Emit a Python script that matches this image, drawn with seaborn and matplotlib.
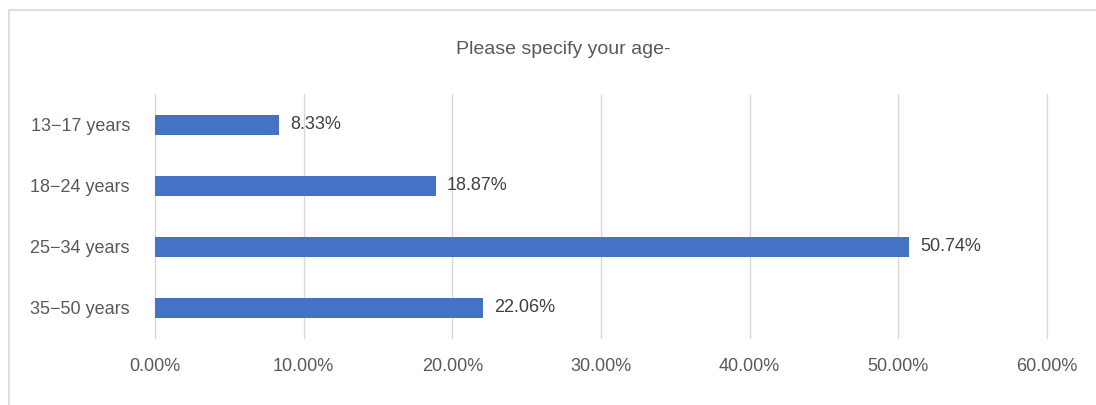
import matplotlib
matplotlib.use("Agg")
import matplotlib.pyplot as plt
import seaborn as sns
import pandas as pd
from matplotlib.patches import Rectangle
from matplotlib import font_manager

# Survey responses: share of respondents per age group (%)
age_groups = ["13\u221217 years", "18\u221224 years", "25\u221234 years", "35\u221250 years"]
shares = [8.33, 18.87, 50.74, 22.06]
x_ticks = [0, 10, 20, 30, 40, 50, 60]
x_tick_labels = ["0.00%", "10.00%", "20.00%", "30.00%", "40.00%", "50.00%", "60.00%"]
title = "Please specify your age-"

df = pd.DataFrame({"age": age_groups, "share": shares})

sns.set_theme(style="white")
installed = {f.name for f in font_manager.fontManager.ttflist}
family = "Liberation Sans Narrow" if "Liberation Sans Narrow" in installed else "Liberation Sans"
plt.rcParams["font.family"] = [family, "DejaVu Sans"]

fig = plt.figure(figsize=(10.96, 4.05), dpi=100)
ax = fig.add_axes([0.1414, 0.165, 0.8139, 0.602])

sns.barplot(data=df, x="share", y="age", orient="h", color="#4472C4",
            width=0.33, saturation=1, linewidth=0, ax=ax)

ax.set_xlim(0, 60)
ax.set_ylim(3.5, -0.5)
ax.set_xticks(x_ticks)
ax.set_xticklabels(x_tick_labels)
ax.set_xlabel("")
ax.set_ylabel("")
ax.grid(axis="x", color="#D9D9D9", linewidth=1)
for gl in ax.get_xgridlines():
    gl.set_clip_on(False)
ax.set_axisbelow(True)
for side in ["top", "right", "bottom", "left"]:
    ax.spines[side].set_visible(False)
ax.tick_params(axis="both", length=0, labelsize=13, labelcolor="#595959")
ax.tick_params(axis="x", pad=14)
ax.tick_params(axis="y", pad=18)

for i, v in enumerate(shares):
    ax.text(v + 0.75, i, f"{v:.2f}%", va="center", ha="left",
            fontsize=13, color="#404040")

fig.text(0.514, 0.878, title, ha="center", va="center", fontsize=14, color="#595959")

# Chart-area frame
fig.patches.append(Rectangle((0.0085, -0.05), 1.2, 1.025, transform=fig.transFigure,
                             fill=False, edgecolor="#D9D9D9", linewidth=1.2))

fig.savefig("out.png", dpi=100, facecolor="white")
